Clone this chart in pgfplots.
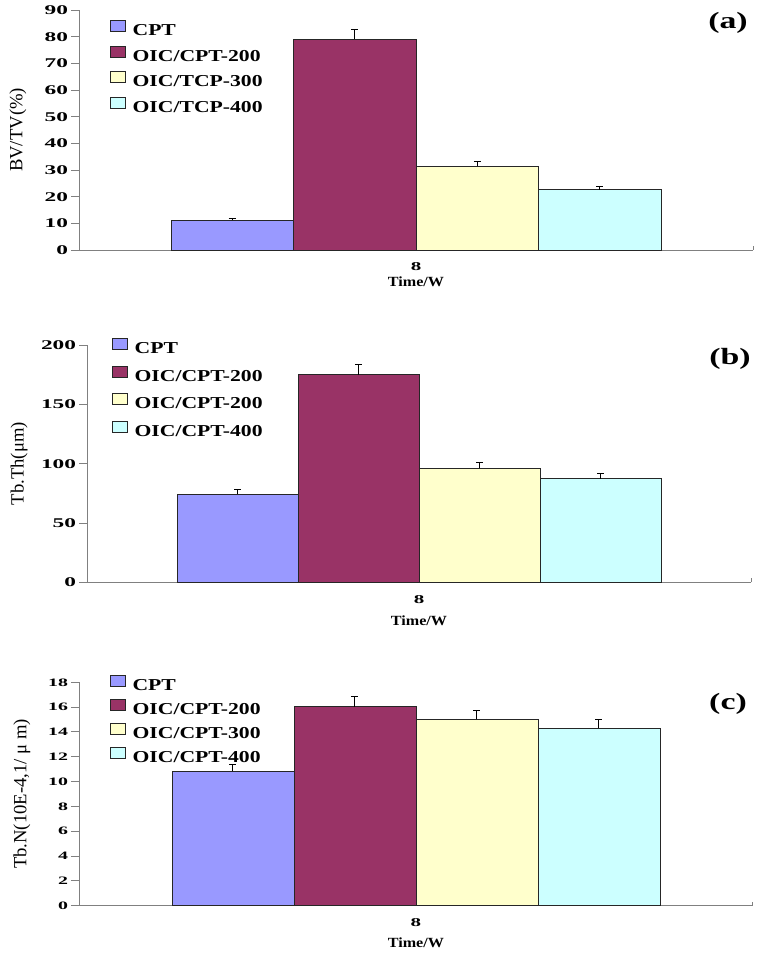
\documentclass[border=0pt]{standalone}
\usepackage{fontspec}
\setmainfont{Liberation Serif}
\newfontfamily\tickfont[FakeStretch=1.75]{Liberation Serif}
\newfontfamily\legfont[FakeStretch=1.3]{Liberation Serif}
\newfontfamily\panfont[FakeStretch=1.45]{Liberation Serif}
\newfontfamily\xlfont[FakeStretch=1.15]{Liberation Serif}
\usepackage{pgfplots}
\pgfplotsset{compat=1.18}
\definecolor{cptc}{HTML}{9999FF}
\definecolor{ctwo}{HTML}{993366}
\definecolor{cthree}{HTML}{FFFFCC}
\definecolor{cfour}{HTML}{CCFFFF}
\definecolor{axgray}{HTML}{808080}
\pgfplotsset{
  myax/.style={
    scale only axis, anchor=south west, clip=false,
    axis lines=left, axis line style={-, axgray, line width=0.7pt},
    xmin=-0.5, xmax=0.5, ybar=0pt,
    xtick={0}, xticklabels={8},
    x tick style={draw=none},
    y tick style={axgray, line width=0.7pt},
    tick align=outside, major tick length=6pt,
    /pgf/number format/assume math mode=true,
    yticklabel style={font=\tickfont\bfseries\fontsize{10}{12}\selectfont, inner sep=2pt},
    xticklabel style={font=\tickfont\bfseries\fontsize{9}{11}\selectfont},
    xlabel style={font=\xlfont\bfseries\fontsize{10.5}{12}\selectfont, anchor=center},
    ylabel style={font=\fontsize{14}{16}\selectfont, anchor=center, rotate=0},
    legend cell align=left,
    legend style={draw=none, fill=none, inner sep=0pt, anchor=north west,
      font=\legfont\bfseries\fontsize{12.5}{14}\selectfont,
      nodes={inner sep=0pt, text height=9.5pt, text depth=2.5pt},
      /tikz/every odd column/.style={column sep=5pt}},
    legend image code/.code={\draw[#1, draw=black!85, line width=0.5pt] (0pt,-0.5pt) rectangle (11.25pt,7.75pt);},
    error bars/error bar style={black, line width=0.6pt},
    error bars/error mark options={black, rotate=90, mark size=2.6pt, line width=0.6pt},
  },
  bar/.style={draw=black!85, line width=0.5pt, error bars/.cd, y dir=plus, y explicit},
}
\begin{document}
\begin{tikzpicture}
\path (0,0) rectangle (570pt,716.25pt);
% ---------- (a)
\begin{axis}[myax, at={(59.25pt,528.75pt)}, width=505.5pt, height=180pt,
  bar width=91.9pt, ymin=0, ymax=90, ytick={0,10,...,90},
  xlabel={Time/W}, xlabel style={at={(axis description cs:0.5,-0.133)}},
  ylabel={BV/TV(\%)}, ylabel style={at={(axis description cs:-0.0905,0.5)}},
  legend style={at={(0.046,0.959)}, row sep=5.25pt},
  legend entries={CPT, OIC/CPT-200, OIC/TCP-300, OIC/TCP-400}]
\addplot[fill=cptc, bar] coordinates {(0,11.2) +- (0,0.5)};
\addplot[fill=ctwo, bar] coordinates {(0,79.0) +- (0,3.7)};
\addplot[fill=cthree, bar] coordinates {(0,31.4) +- (0,1.7)};
\addplot[fill=cfour, bar] coordinates {(0,22.6) +- (0,1.3)};
\draw[axgray, line width=0.7pt] (rel axis cs:1,0) -- ([yshift=3pt]rel axis cs:1,0);
\end{axis}
% ---------- (b)
\begin{axis}[myax, at={(65.25pt,279.5pt)}, width=498pt, height=178pt,
  bar width=90.75pt, ymin=0, ymax=200, ytick={0,50,...,200},
  xlabel={Time/W}, xlabel style={at={(axis description cs:0.5,-0.16)}},
  ylabel={Tb.Th(μm)}, ylabel style={at={(axis description cs:-0.102,0.5)}},
  legend style={at={(0.0377,1.03)}, row sep=6.75pt},
  legend entries={CPT, OIC/CPT-200, OIC/CPT-200, OIC/CPT-400}]
\addplot[fill=cptc, bar] coordinates {(0,74.4) +- (0,3.6)};
\addplot[fill=ctwo, bar] coordinates {(0,174.9) +- (0,8.7)};
\addplot[fill=cthree, bar] coordinates {(0,96.0) +- (0,5.3)};
\addplot[fill=cfour, bar] coordinates {(0,87.3) +- (0,4.8)};
\draw[axgray, line width=0.7pt] (rel axis cs:1,0) -- ([yshift=3pt]rel axis cs:1,0);
\end{axis}
% ---------- (c)
\begin{axis}[myax, at={(59.25pt,37pt)}, width=505.3pt, height=167.5pt,
  bar width=91.5pt, ymin=0, ymax=18, ytick={0,2,...,18},
  yticklabel style={font=\tickfont\bfseries\fontsize{8.5}{10}\selectfont},
  xlabel={Time/W}, xlabel style={at={(axis description cs:0.5,-0.166)}},
  ylabel={Tb.N(10E-4,1/ μ m)}, ylabel style={at={(axis description cs:-0.0846,0.5)}},
  legend style={at={(0.046,1.035)}, row sep=4.15pt},
  legend entries={CPT, OIC/CPT-200, OIC/CPT-300, OIC/CPT-400}]
\addplot[fill=cptc, bar] coordinates {(0,10.83) +- (0,0.56)};
\addplot[fill=ctwo, bar] coordinates {(0,16.04) +- (0,0.80)};
\addplot[fill=cthree, bar] coordinates {(0,15.02) +- (0,0.75)};
\addplot[fill=cfour, bar] coordinates {(0,14.29) +- (0,0.73)};
\draw[axgray, line width=0.7pt] (rel axis cs:1,0) -- ([yshift=3pt]rel axis cs:1,0);
\end{axis}
% panel labels
\node[font=\panfont\bfseries\fontsize{17.5}{20}\selectfont] at (546pt,699pt) {(a)};
\node[font=\panfont\bfseries\fontsize{17.5}{20}\selectfont] at (547.5pt,447pt) {(b)};
\node[font=\panfont\bfseries\fontsize{17.5}{20}\selectfont] at (546pt,188.25pt) {(c)};
\end{tikzpicture}
\end{document}
